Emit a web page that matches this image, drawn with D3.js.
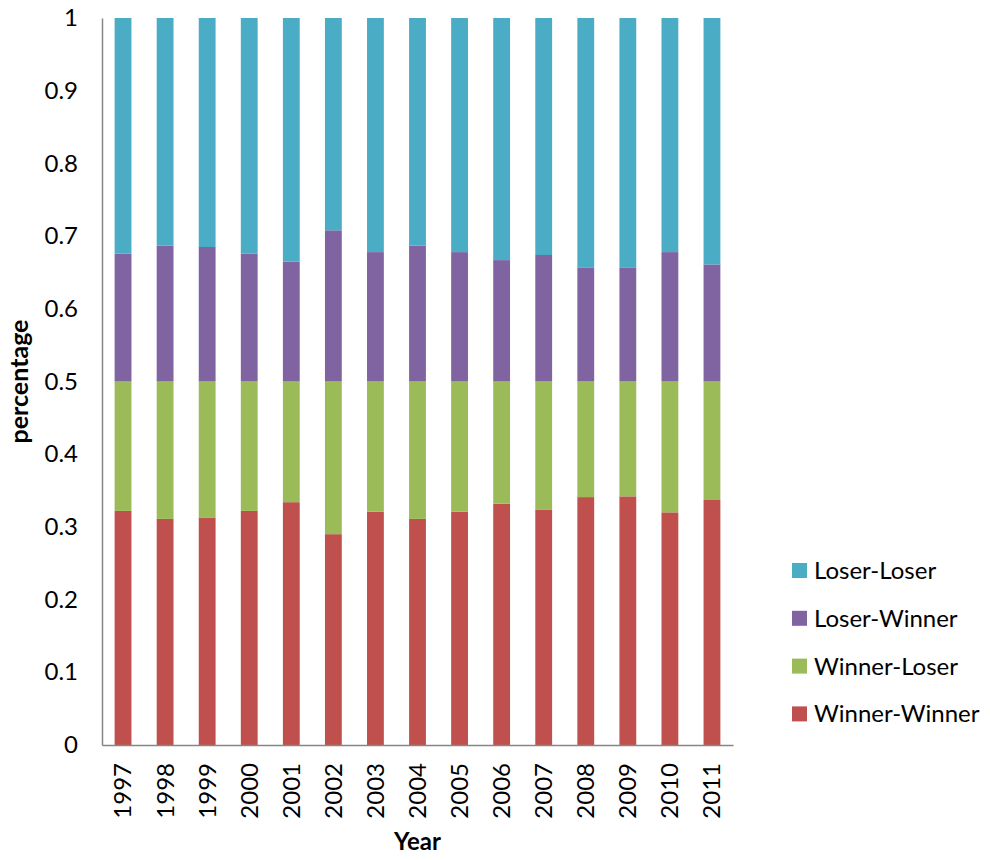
<!DOCTYPE html>
<html>
<head>
<meta charset="utf-8">
<script src="https://cdn.jsdelivr.net/npm/d3@7"></script>
<style>
  html, body { margin: 0; padding: 0; background: #fff; }
  svg { display: block; font-family: Lato, "Open Sans", sans-serif; }
</style>
</head>
<body>
<svg id="chart" width="990" height="860"></svg>
<script>
// Share of each transition type per year (stacked to 1)
const years = ["1997","1998","1999","2000","2001","2002","2003","2004","2005","2006","2007","2008","2009","2010","2011"];
const winnerWinner = [0.322,0.311,0.313,0.322,0.334,0.290,0.321,0.311,0.321,0.332,0.324,0.341,0.342,0.320,0.337];
const winnerLoser  = [0.178,0.189,0.187,0.178,0.166,0.210,0.179,0.189,0.179,0.168,0.176,0.159,0.158,0.180,0.163];
const loserWinner  = [0.176,0.187,0.185,0.176,0.165,0.208,0.178,0.187,0.178,0.167,0.174,0.157,0.157,0.178,0.161];
const loserLoser   = [0.324,0.313,0.315,0.324,0.335,0.292,0.322,0.313,0.322,0.333,0.326,0.343,0.343,0.322,0.339];
const yTicks = [0,0.1,0.2,0.3,0.4,0.5,0.6,0.7,0.8,0.9,1];

const seriesNames = ["Winner-Winner","Winner-Loser","Loser-Winner","Loser-Loser"];
const seriesColors = ["#C0504D","#9BBB59","#8064A2","#4BACC6"];
const seriesValues = [winnerWinner, winnerLoser, loserWinner, loserLoser];

const rows = years.map((y, i) => {
  const r = { year: y };
  seriesNames.forEach((n, k) => r[n] = seriesValues[k][i]);
  return r;
});

const svg = d3.select("#chart");
const margin = { left: 102, right: 257, top: 18, bottom: 115 };
const W = 990, H = 860;
const labelSize = 24;

const x = d3.scaleBand().domain(years)
  .range([margin.left, W - margin.right])
  .paddingInner(0.6).paddingOuter(0.3);
const y = d3.scaleLinear().domain([0, 1]).range([H - margin.bottom, margin.top]);

const stack = d3.stack().keys(seriesNames);
const layers = stack(rows);

svg.append("g").selectAll("g")
  .data(layers)
  .join("g")
  .attr("fill", (d, i) => seriesColors[i])
  .selectAll("rect")
  .data(d => d)
  .join("rect")
  .attr("x", d => x(d.data.year))
  .attr("width", x.bandwidth())
  .attr("y", d => y(d[1]))
  .attr("height", d => y(d[0]) - y(d[1]));

// Y axis
const yAxis = d3.axisLeft(y).tickValues(yTicks).tickSize(0).tickPadding(24)
  .tickFormat(d => d === 0 ? "0" : d === 1 ? "1" : d3.format(".1f")(d));
const gy = svg.append("g").attr("transform", `translate(${margin.left},0)`).call(yAxis);
gy.select(".domain").attr("stroke", "#868686").attr("stroke-width", 1.5);
gy.selectAll("text").attr("font-size", labelSize).attr("fill", "#000")
  .attr("font-family", "Lato, sans-serif");

// X axis
const xAxis = d3.axisBottom(x).tickSize(0).tickSizeOuter(0);
const gx = svg.append("g").attr("transform", `translate(0,${H - margin.bottom})`).call(xAxis);
gx.select(".domain").attr("stroke", "#868686").attr("stroke-width", 1.5);
gx.selectAll("text")
  .attr("font-size", labelSize).attr("fill", "#000").attr("font-family", "Lato, sans-serif")
  .attr("text-anchor", "end")
  .attr("dy", "0.35em")
  .attr("transform", "translate(0,18) rotate(-90)")
  .attr("x", 0).attr("y", 0);

// Axis titles
svg.append("text")
  .attr("transform", `translate(28,${y(0.5)}) rotate(-90)`)
  .attr("text-anchor", "middle")
  .attr("font-size", 25).attr("font-weight", "bold")
  .text("percentage");

svg.append("text")
  .attr("x", (margin.left + W - margin.right) / 2)
  .attr("y", 850)
  .attr("text-anchor", "middle")
  .attr("font-size", 24).attr("font-weight", "bold")
  .text("Year");

// Legend (top entry is the top of the stack)
const legendOrder = [3, 2, 1, 0];
const legend = svg.append("g").attr("transform", "translate(792,563)");
legendOrder.forEach((k, i) => {
  const g = legend.append("g").attr("transform", `translate(0,${i * 47.8})`);
  g.append("rect").attr("width", 15).attr("height", 15).attr("fill", seriesColors[k]);
  g.append("text").attr("x", 22).attr("y", 7.5).attr("dy", "0.35em")
    .attr("font-size", labelSize).text(seriesNames[k]);
});
</script>
</body>
</html>
